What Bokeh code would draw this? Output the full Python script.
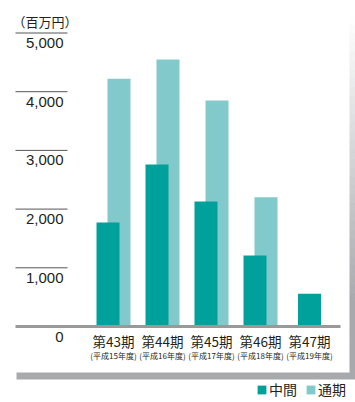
from bokeh.plotting import figure
from bokeh.models import Range1d, Legend, LegendItem
from bokeh.core.properties import value
from bokeh.embed import file_html
from bokeh.resources import INLINE

# ---- data ----
periods = ["第43期", "第44期", "第45期", "第46期", "第47期"]
fiscal = ["(平成15年度)", "(平成16年度)", "(平成17年度)", "(平成18年度)", "(平成19年度)"]
interim = [1770, 2760, 2130, 1210, 560]
full_year = [4220, 4550, 3850, 2200, None]
y_ticks = [0, 1000, 2000, 3000, 4000, 5000]
tick_labels = ["0", "1,000", "2,000", "3,000", "4,000", "5,000"]
unit_label = "（百万円）"
series_names = ["中間", "通期"]

# ---- layout (pixel geometry) ----
W, H = 355, 402
X0PX, XSTEP = 113.0, 49.0          # pixel centre of first category, spacing
Y0PX, YSCALE = 326.0, 293.5 / 5000  # pixel of value 0, px per unit

def px_x(px):
    return (px - X0PX) / XSTEP

def px_y(py):
    return (Y0PX - py) / YSCALE

DARK = "#00a19a"
LIGHT = "#82c9cb"
TEXT = "#231f20"
GRAY = "#a7a9ac"
JP = "Noto Sans CJK JP"
NUM = "Liberation Sans"

p = figure(width=W, height=H, output_backend="svg", toolbar_location=None,
           x_range=Range1d(px_x(0), px_x(W)), y_range=Range1d(px_y(H), px_y(0)),
           min_border=0)
p.xaxis.visible = False
p.yaxis.visible = False
p.grid.visible = False
p.outline_line_color = None
p.background_fill_color = "white"
p.border_fill_color = "white"

# ---- frame shadow ----
n = 40
top_px, bot_px = 15.0, 372.0
for k in range(n):
    t = (k + 0.5) / n
    t2 = min(1.0, t * 1.25)
    c = tuple(int(round(255 + (v - 255) * t2)) for v in (0xa7, 0xa9, 0xac))
    y_a = top_px + (bot_px - top_px) * k / n
    y_b = top_px + (bot_px - top_px) * (k + 1) / n
    p.quad(left=px_x(349), right=px_x(355), top=px_y(y_a), bottom=px_y(y_b + 0.5),
           fill_color="#%02x%02x%02x" % c, line_color=None)
p.quad(left=px_x(16), right=px_x(355), top=px_y(372), bottom=px_y(379),
       fill_color=GRAY, line_color=None)

# ---- bars ----
bw = 23.0 / XSTEP
off = 5.5 / XSTEP
fx = [i + off for i, v in enumerate(full_year) if v is not None]
fv = [v for v in full_year if v is not None]
r_full = p.vbar(x=fx, top=fv, bottom=0, width=bw, fill_color=LIGHT, line_color=None)
ix = [i - off if full_year[i] is not None else i for i in range(len(interim))]
r_int = p.vbar(x=ix, top=interim, bottom=0, width=bw, fill_color=DARK, line_color=None)

# ---- y ticks ----
tk = [t for t in y_ticks if t > 0]
p.segment(x0=[px_x(15)] * len(tk), x1=[px_x(67)] * len(tk), y0=tk, y1=tk,
          line_color="#555555", line_width=1)
p.text(x=[px_x(63)] * len(y_ticks), y=y_ticks, text=tick_labels, y_offset=10,
       text_align="right", text_baseline="middle", text_font=value(NUM),
       text_font_size="15px", text_color=TEXT)

# baseline
p.segment(x0=[px_x(15)], x1=[px_x(340)], y0=[0], y1=[0], line_color="#999999", line_width=3)

# unit label
p.text(x=[px_x(12)], y=[px_y(21)], text=[unit_label], text_align="left",
       text_baseline="middle", text_font=value(JP), text_font_size="13px", text_color=TEXT)

# category labels
cx = list(range(len(periods)))
p.text(x=cx, y=[0] * len(cx), text=periods, y_offset=14, text_align="center",
       text_baseline="middle", text_font=value(JP), text_font_size="13.5px", text_color=TEXT)
p.text(x=cx, y=[0] * len(cx), text=fiscal, y_offset=29, text_align="center",
       text_baseline="middle", text_font=value(JP), text_font_size="8px", text_color=TEXT)

# legend
legend = Legend(items=[LegendItem(label=series_names[0], renderers=[r_int]),
                       LegendItem(label=series_names[1], renderers=[r_full])],
                orientation="horizontal", location=(256, 3),
                glyph_width=11, glyph_height=11, label_standoff=2, spacing=8,
                padding=0, margin=0, label_height=14,
                label_text_font=JP, label_text_font_size="14px", label_text_color=TEXT,
                background_fill_alpha=0, border_line_alpha=0)
p.add_layout(legend, "center")

open("out.html", "w").write(file_html(p, INLINE))
